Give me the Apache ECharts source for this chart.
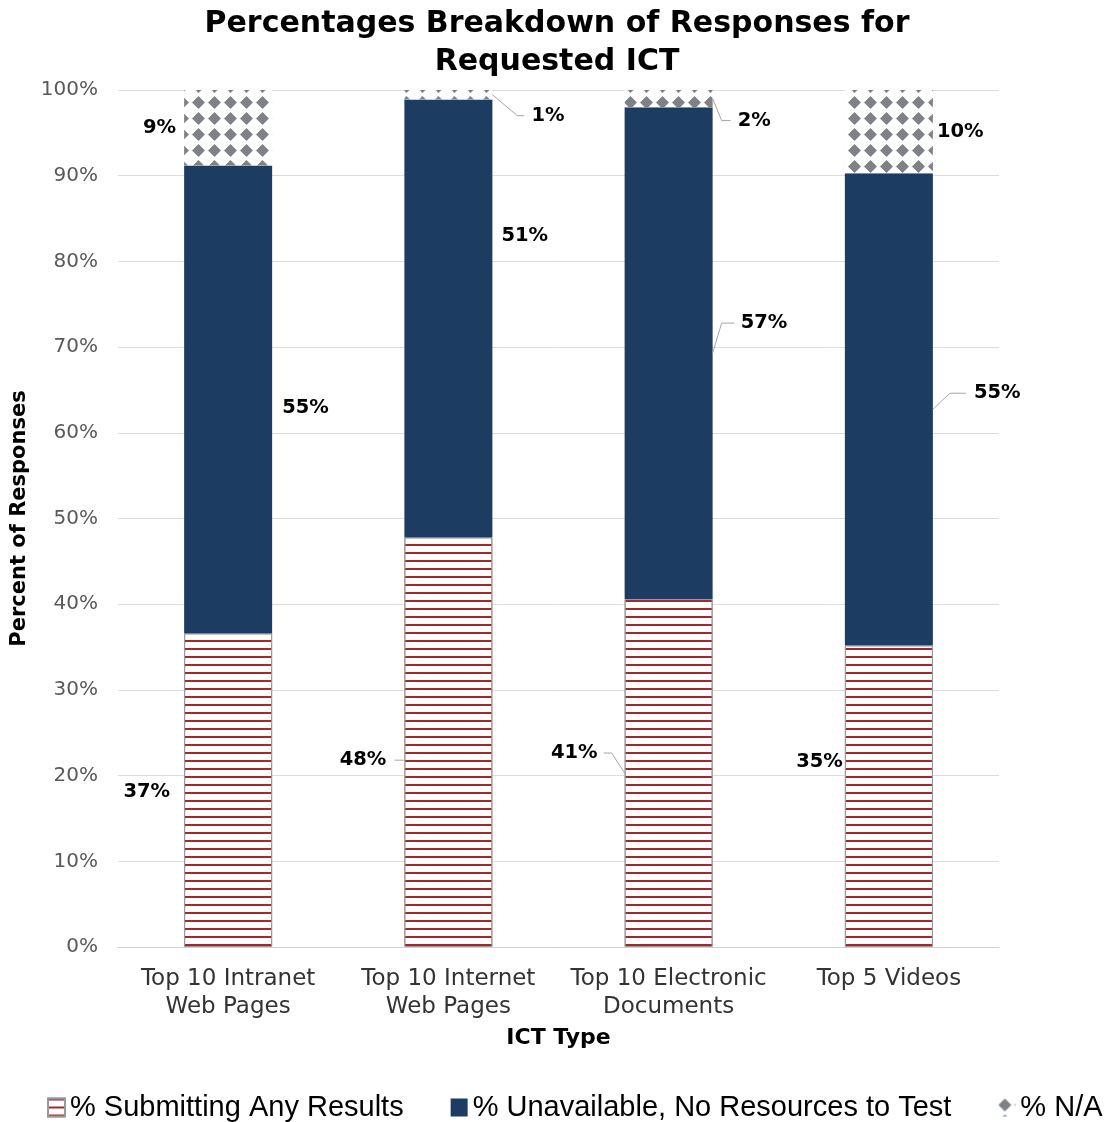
<!DOCTYPE html>
<html>
<head>
<meta charset="utf-8">
<script src="https://cdn.jsdelivr.net/npm/echarts@6/dist/echarts.min.js"></script>
<style>
html,body{margin:0;padding:0;background:#fff;}
#chart{width:1114px;height:1122px;}
</style>
</head>
<body>
<div id="chart"></div>
<script>
// ---- data ----
var categories = ['Top 10 Intranet\nWeb Pages', 'Top 10 Internet\nWeb Pages', 'Top 10 Electronic\nDocuments', 'Top 5 Videos'];
var submitting = [36.6, 47.8, 40.6, 35.2];
var unavailable = [54.6, 51.1, 57.4, 55.1];
var notApplicable = [8.8, 1.1, 2.0, 9.7];
var seriesNames = ['% Submitting Any Results', '% Unavailable, No Resources to Test', '% N/A'];
var yTicks = [0, 10, 20, 30, 40, 50, 60, 70, 80, 90, 100];

// ---- label placement (layout only) ----
// [position, distance, dy, leader]   leader: null or [elbowDx, endDx, straight]
var submittingLabelLayout = [
  ['left', 14, 2, null],
  ['left', 18, 18, [0, 10, 1]],
  ['left', 27, -20, [13, 21, 0]],
  ['left', 2, -34, null]
];
var unavailableLabelLayout = [
  ['right', 10, 9, null],
  ['right', 9, -82, null],
  ['right', 28, -30, [9, 22, 0]],
  ['right', 41, -16, [17, 33, 0]]
];
var naLabelLayout = [
  ['left', 8, 0, null],
  ['right', 39, 21, [25, 32, 0]],
  ['right', 25, 22, [9, 18, 0]],
  ['right', 4, 0, null]
];
var BAR_WIDTH = 88;

var allValues = [submitting, unavailable, notApplicable];
var allLayouts = [submittingLabelLayout, unavailableLabelLayout, naLabelLayout];

function buildData(values, layout) {
  return values.map(function (v, i) {
    var l = layout[i];
    return {
      value: v,
      label: { position: l[0], distance: l[1], offset: [0, l[2]] }
    };
  });
}

// leader lines: anchored to the middle of each stacked segment via the value axis
var leaderData = [];
allValues.forEach(function (vals, s) {
  vals.forEach(function (v, i) {
    var l = allLayouts[s][i];
    if (!l[3]) return;
    var base = 0;
    for (var k = 0; k < s; k++) base += allValues[k][i];
    leaderData.push([i, base + v / 2, l[0] === 'right' ? 1 : -1, l[2], l[3][0], l[3][1], l[3][2]]);
  });
});

function renderLeader(params, api) {
  var p = api.coord([api.value(0), api.value(1)]);
  var side = api.value(2), dy = api.value(3), elbow = api.value(4), end = api.value(5), straight = api.value(6);
  var x0 = p[0] + side * BAR_WIDTH / 2;
  var ly = p[1] + dy;
  var y0 = straight ? ly : p[1];
  return {
    type: 'polyline',
    silent: true,
    shape: { points: [[x0, y0], [x0 + side * elbow, ly], [x0 + side * end, ly]] },
    style: { stroke: '#a6a6a6', lineWidth: 1, fill: 'none' }
  };
}

var labelBase = {
  show: true,
  color: '#000',
  fontFamily: 'DejaVu Sans',
  fontWeight: 'bold',
  fontSize: 19.5,
  formatter: function (p) { return Math.round(p.value) + '%'; }
};

var chart = echarts.init(document.getElementById('chart'), null, { renderer: 'canvas' });
chart.setOption({
  backgroundColor: '#ffffff',
  animation: false,
  title: {
    text: 'Percentages Breakdown of Responses for\nRequested ICT',
    left: 'center',
    top: 0,
    textStyle: { fontFamily: 'DejaVu Sans', fontWeight: 'bold', fontSize: 30, lineHeight: 38, color: '#000' }
  },
  legend: {
    top: 1093,
    left: 47,
    width: 1066,
    padding: 0,
    icon: 'rect',
    itemGap: 47,
    itemWidth: 17,
    itemHeight: 18,
    textStyle: { fontFamily: 'Liberation Sans', fontSize: 29, color: '#000' },
    data: seriesNames
  },
  grid: { left: 118, right: 115, top: 90, bottom: 175, containLabel: false },
  xAxis: {
    type: 'category',
    data: categories,
    name: 'ICT Type',
    nameLocation: 'middle',
    nameGap: 80,
    nameTextStyle: { fontFamily: 'DejaVu Sans', fontWeight: 'bold', fontSize: 22, color: '#000' },
    axisTick: { show: false },
    axisLine: { lineStyle: { color: '#d0d0d0' } },
    axisLabel: { interval: 0, fontFamily: 'DejaVu Sans', fontSize: 23, color: '#333', lineHeight: 28, margin: 18 }
  },
  yAxis: {
    type: 'value',
    min: yTicks[0],
    max: yTicks[yTicks.length - 1],
    interval: yTicks[1] - yTicks[0],
    name: 'Percent of Responses',
    nameLocation: 'middle',
    nameGap: 86,
    nameTextStyle: { fontFamily: 'DejaVu Sans', fontWeight: 'bold', fontSize: 21, color: '#000' },
    axisLine: { show: false },
    axisTick: { show: false },
    axisLabel: { fontFamily: 'DejaVu Sans', fontSize: 20, color: '#595959', margin: 20, formatter: '{value}%' },
    splitLine: { lineStyle: { color: '#dcdcdc' } }
  },
  series: [
    {
      name: seriesNames[0],
      type: 'bar',
      stack: 'total',
      barWidth: BAR_WIDTH,
      itemStyle: {
        color: '#ffffff',
        borderColor: '#9a9a9a',
        borderWidth: 1,
        decal: { symbol: 'rect', symbolSize: 1, dashArrayX: [1, 0], dashArrayY: [2, 6], color: '#a3282c', rotation: 0 }
      },
      label: labelBase,
      data: buildData(submitting, submittingLabelLayout)
    },
    {
      name: seriesNames[1],
      type: 'bar',
      stack: 'total',
      itemStyle: { color: '#1d3c62' },
      label: labelBase,
      data: buildData(unavailable, unavailableLabelLayout)
    },
    {
      name: seriesNames[2],
      type: 'bar',
      stack: 'total',
      itemStyle: {
        color: '#ffffff',
        decal: { symbol: 'diamond', symbolSize: 1, dashArrayX: [13, 2.5], dashArrayY: [13, 2.5], color: '#7e8287', rotation: 0 }
      },
      label: labelBase,
      data: buildData(notApplicable, naLabelLayout)
    },
    {
      name: 'leaders',
      type: 'custom',
      silent: true,
      z: 5,
      renderItem: renderLeader,
      data: leaderData
    }
  ]
});
</script>
</body>
</html>
